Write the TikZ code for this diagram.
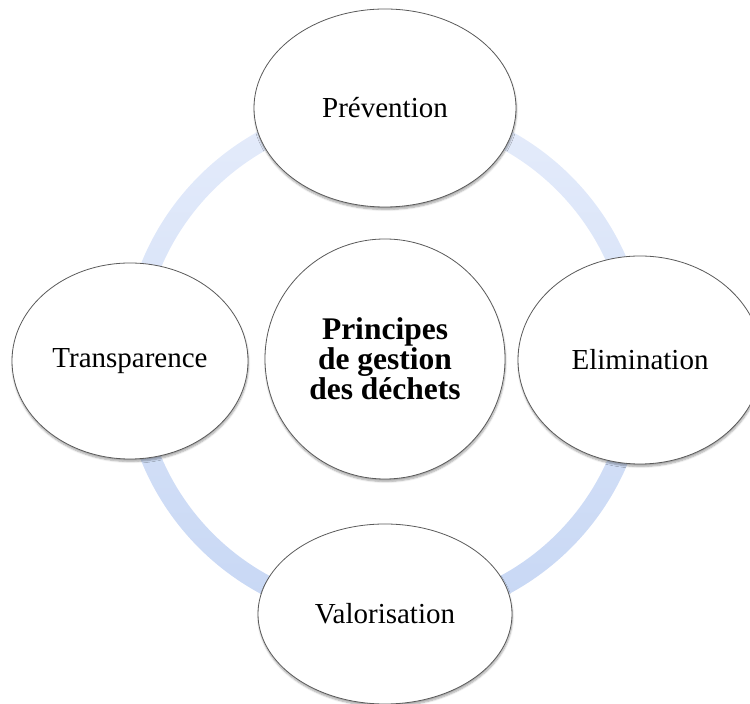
\documentclass[tikz,border=0pt]{standalone}
\usepackage{fontspec}
\setmainfont{Liberation Serif}
\usepackage{tikz}
\usetikzlibrary{shapes.geometric, positioning, calc, shadows.blur}
\definecolor{ringtop}{RGB}{229,236,251}
\definecolor{ringbottom}{RGB}{199,215,244}
\definecolor{edgegray}{RGB}{90,90,90}
\tikzset{
    petal/.style={
        ellipse,
        draw=edgegray,
        line width=0.8pt,
        fill=white,
        inner sep=0pt,
        text centered,
        font=\fontsize{29}{31}\selectfont,
        blur shadow={shadow xshift=0.5pt, shadow yshift=-2.5pt, shadow blur steps=6, shadow opacity=35}
    },
    hubnode/.style={
        petal,
        circle,
        minimum size=240pt,
        align=center,
        font=\fontsize{31.5}{30}\selectfont\bfseries
    }
}

\begin{document}
\begin{tikzpicture}[x=1pt, y=1pt]

\useasboundingbox (0,0) rectangle (750,704);

% Ring behind the nodes
\coordinate (mid) at (385,342);
\shade[even odd rule, top color=ringtop, bottom color=ringbottom]
    (mid) circle (263) (mid) circle (243);

% Centre
\node[hubnode] (hub) at ($(mid)+(0,3)$) {Principes\\de gestion\\des déchets};

% Outer principles
\node[petal, minimum width=262pt, minimum height=198pt] (prevention) at ($(mid)+(0,254)$) {Prévention};
\node[petal, minimum width=236pt, minimum height=196pt] (transparence) at ($(mid)+(-255,1)$) {Transparence};
\node[petal, minimum width=244pt, minimum height=208pt] (elimination) at ($(mid)+(255,2)$) {Elimination};
\node[petal, minimum width=254pt, minimum height=180pt] (valorisation) at ($(mid)+(0,-252)$) {Valorisation};

\end{tikzpicture}
\end{document}
